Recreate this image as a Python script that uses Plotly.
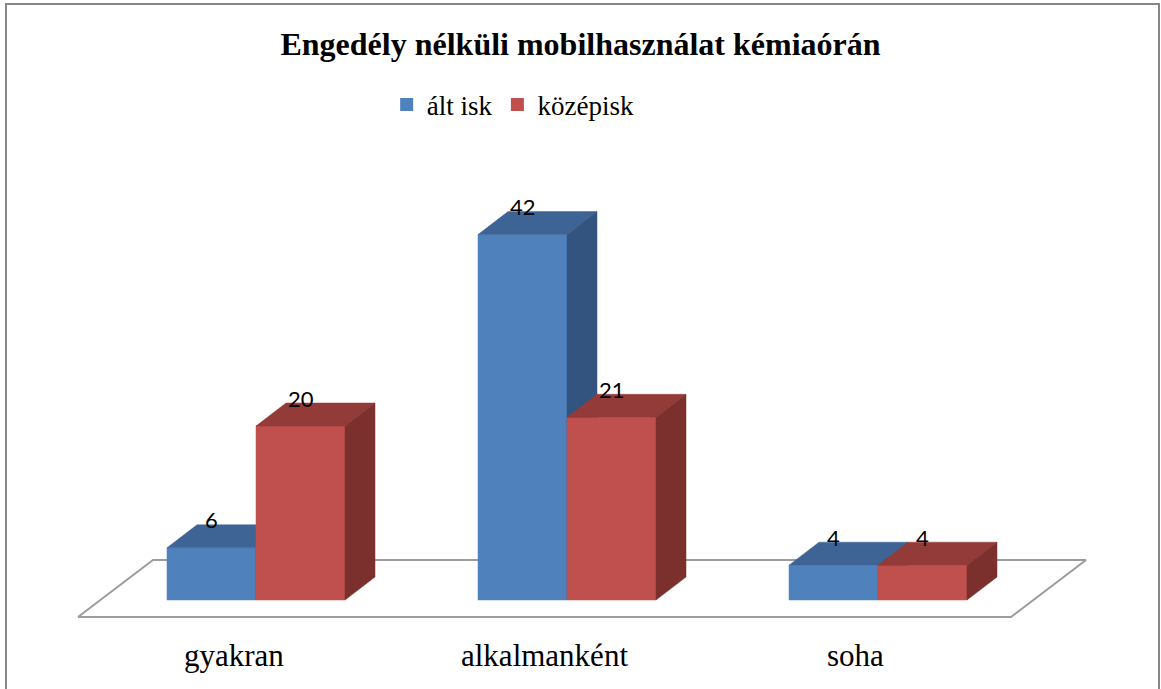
import plotly.graph_objects as go

# ---- data ----
categories = ["gyakran", "alkalmanként", "soha"]
alt_isk = [6, 42, 4]
kozepisk = [20, 21, 4]
series_names = ["ált isk", "középisk"]
title_text = "Engedély nélküli mobilhasználat kémiaórán"

# ---- styling / geometry constants ----
W, H = 1161, 689
PX_CAT = 311.0      # pixels per category step
PX_VAL = 8.7        # pixels per value unit
BASE_PX = 600       # pixel row of value 0 (bar front plane)
CAT0_PX = 256       # pixel column of first category centre (bar front plane)

def ux(px):
    return px / PX_CAT

def uy(px):
    return px / PX_VAL

BAR_W = ux(89)
DX, DY = ux(30), uy(23)              # bar depth
FLOOR_FX, FLOOR_FY = ux(-22.5), -uy(17)   # floor front edge offset
FLOOR_BX, FLOOR_BY = ux(52.5), uy(40)     # floor back edge offset

front_cols = ["#4F81BD", "#C0504D"]
top_cols = ["#3D6494", "#933B39"]
side_cols = ["#33547E", "#7B302E"]

fig = go.Figure()

# floor
n = len(categories)
fx = [-0.5 + FLOOR_FX, n - 0.5 + FLOOR_FX, n - 0.5 + FLOOR_BX, -0.5 + FLOOR_BX, -0.5 + FLOOR_FX]
fy = [FLOOR_FY, FLOOR_FY, FLOOR_BY, FLOOR_BY, FLOOR_FY]
fig.add_trace(go.Scatter(x=fx, y=fy, mode="lines", fill="toself", fillcolor="white",
                         line=dict(color="#9C9C9C", width=2), showlegend=False, hoverinfo="skip"))

series = [alt_isk, kozepisk]
annotations = []
for i in range(n):
    for s, vals in enumerate(series):
        v = vals[i]
        x0 = i + (s - 1) * BAR_W
        x1 = x0 + BAR_W
        # front
        fig.add_trace(go.Scatter(x=[x0, x1, x1, x0, x0], y=[0, 0, v, v, 0], mode="lines",
                                 fill="toself", fillcolor=front_cols[s],
                                 line=dict(color=front_cols[s], width=0.5),
                                 showlegend=False, hoverinfo="skip"))
        # top
        fig.add_trace(go.Scatter(x=[x0, x1, x1 + DX, x0 + DX, x0], y=[v, v, v + DY, v + DY, v],
                                 mode="lines", fill="toself", fillcolor=top_cols[s],
                                 line=dict(color=top_cols[s], width=0.5),
                                 showlegend=False, hoverinfo="skip"))
        # side
        fig.add_trace(go.Scatter(x=[x1, x1 + DX, x1 + DX, x1, x1], y=[0, DY, v + DY, v, 0],
                                 mode="lines", fill="toself", fillcolor=side_cols[s],
                                 line=dict(color=side_cols[s], width=0.5),
                                 showlegend=False, hoverinfo="skip"))
        annotations.append(dict(x=(x0 + x1) / 2, y=v + DY + uy(5), xref="x", yref="y",
                                text=str(v), showarrow=False, yanchor="middle",
                                font=dict(family="Lato", size=22, color="black")))
    annotations.append(dict(x=i + FLOOR_FX, y=-uy(55), xref="x", yref="y",
                            text=categories[i], showarrow=False, yanchor="middle",
                            font=dict(family="Liberation Serif", size=31, color="black")))

# legend entries
for s, name in enumerate(series_names):
    fig.add_trace(go.Scatter(x=[None], y=[None], mode="markers", name=name,
                             marker=dict(symbol="square", size=13, color=front_cols[s])))

fig.update_layout(
    width=W, height=H,
    margin=dict(l=0, r=0, t=0, b=0),
    paper_bgcolor="white", plot_bgcolor="white",
    title=dict(text="<b>" + title_text + "</b>", x=0.5, xanchor="center",
               y=1 - 44 / H, yanchor="middle",
               font=dict(family="Liberation Serif", size=32, color="black")),
    legend=dict(orientation="h", x=0.442, xanchor="center", y=1 - 105 / H, yanchor="middle",
                font=dict(family="Liberation Serif", size=27, color="black"),
                bgcolor="rgba(0,0,0,0)", itemwidth=30, tracegroupgap=0),
    xaxis=dict(range=[-CAT0_PX / PX_CAT, (W - CAT0_PX) / PX_CAT], visible=False, fixedrange=True),
    yaxis=dict(range=[(BASE_PX - H) / PX_VAL, BASE_PX / PX_VAL], visible=False, fixedrange=True),
    annotations=annotations,
    shapes=[dict(type="rect", xref="paper", yref="paper",
                 x0=6 / W, x1=1159 / W, y0=-0.02, y1=1 - 4 / H,
                 line=dict(color="#868686", width=2), fillcolor="rgba(0,0,0,0)", layer="above")],
    showlegend=True,
)

fig.write_html("out.html", config={"displayModeBar": False},
               post_script="document.body.style.margin='0';document.body.style.overflow='hidden';")
